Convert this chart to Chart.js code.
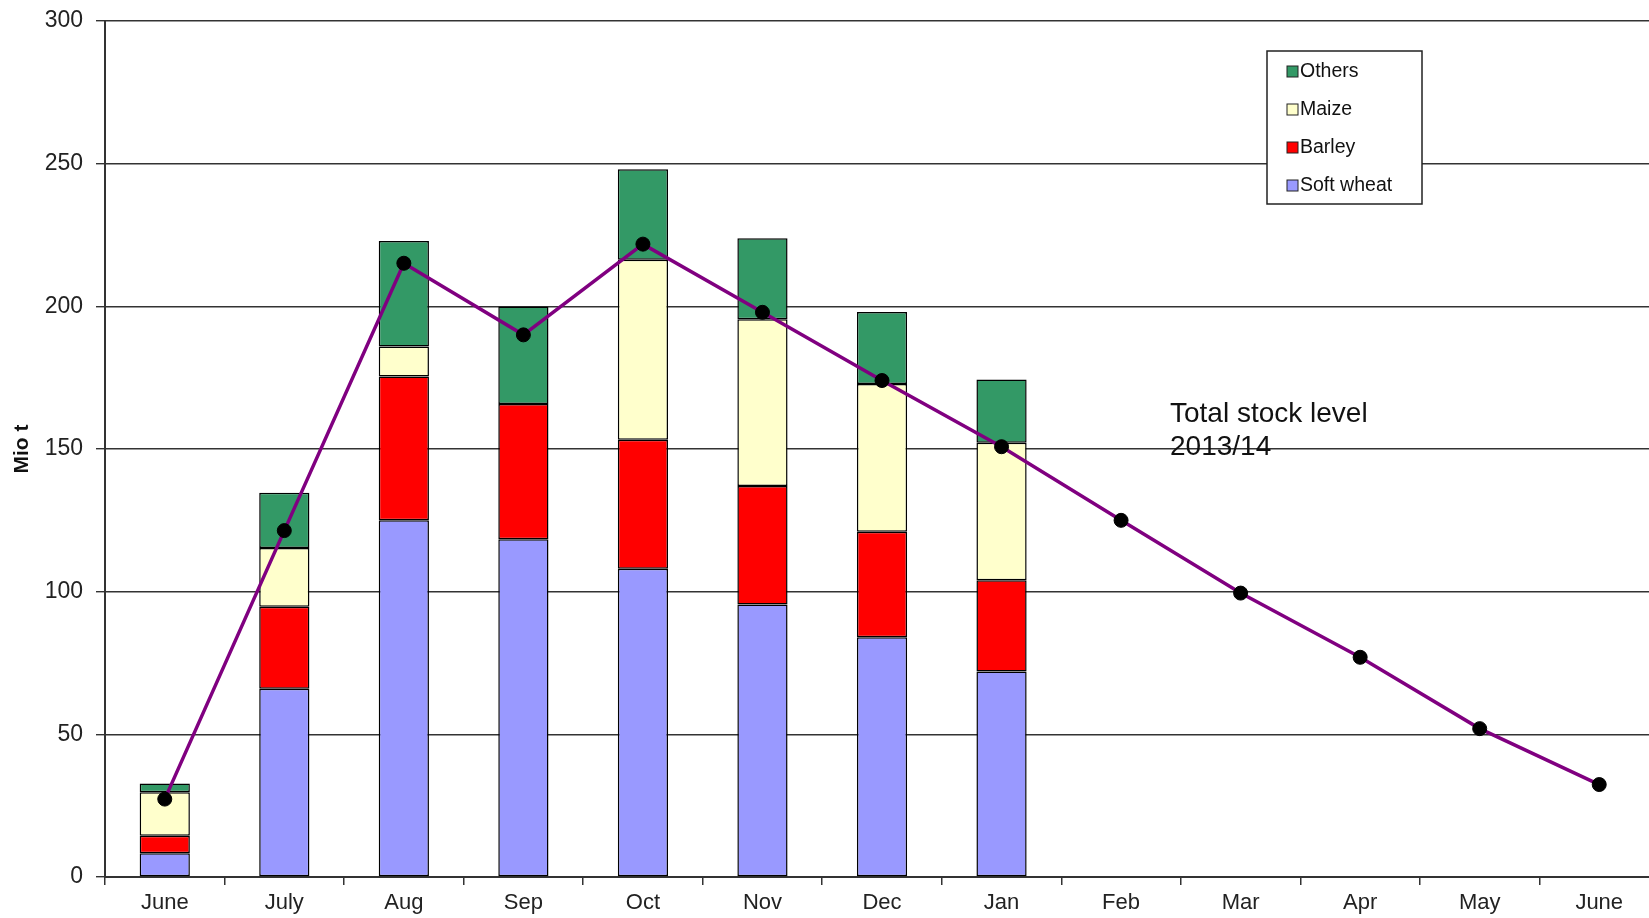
<!DOCTYPE html>
<html>
<head>
<meta charset="utf-8">
<script src="https://cdn.jsdelivr.net/npm/chart.js@4/dist/chart.umd.min.js"></script>
<style>
  body { margin: 0; overflow: hidden; background: #fff; }
  canvas { display: block; }
</style>
</head>
<body>
<canvas id="stockChart" width="1659" height="918"></canvas>
<script>
const months = ['June', 'July', 'Aug', 'Sep', 'Oct', 'Nov', 'Dec', 'Jan', 'Feb', 'Mar', 'Apr', 'May', 'June'];
const softWheat = [8.3, 66, 125, 118.4, 108, 95.5, 84, 72];
const barley = [6.2, 28.7, 50.4, 47.4, 45.2, 41.5, 37, 32];
const maize = [15.2, 20.6, 10.5, 0, 63.1, 58.5, 51.8, 48.2];
const others = [3.1, 19.4, 37, 34.1, 31.7, 28.4, 25.2, 22.2];
const totalStock = [27.3, 121.4, 215.1, 190, 221.8, 197.9, 174, 150.8, 125, 99.5, 77, 52, 32.4];
const yTicks = [0, 50, 100, 150, 200, 250, 300];

const FONT = '"Liberation Sans", Arial, sans-serif';

// legend drawn as a boxed list, top item = last stacked series
const boxLegend = {
    id: 'boxLegend',
    afterDraw(chart) {
        const ctx = chart.ctx;
        const bars = chart.data.datasets.filter(d => d.type === 'bar').slice().reverse();
        const x = 1267, y = 51, w = 155, h = 153;
        ctx.save();
        ctx.fillStyle = '#fff';
        ctx.fillRect(x, y, w, h);
        ctx.strokeStyle = '#222';
        ctx.lineWidth = 1.5;
        ctx.strokeRect(x, y, w, h);
        ctx.font = '19.5px ' + FONT;
        ctx.textBaseline = 'middle';
        bars.forEach((ds, i) => {
            const cy = y + 20 + i * 38;
            ctx.fillStyle = ds.backgroundColor;
            ctx.fillRect(x + 20, cy - 5, 11, 11);
            ctx.strokeStyle = '#222';
            ctx.lineWidth = 1;
            ctx.strokeRect(x + 20, cy - 5, 11, 11);
            ctx.fillStyle = '#111';
            ctx.fillText(ds.label, x + 33, cy + 1);
        });
        ctx.restore();
    }
};

const stockNote = {
    id: 'stockNote',
    afterDraw(chart) {
        const ctx = chart.ctx;
        ctx.save();
        ctx.font = '28px ' + FONT;
        ctx.fillStyle = '#111';
        ctx.textBaseline = 'alphabetic';
        ctx.fillText('Total stock level', 1170, 422);
        ctx.fillText('2013/14', 1170, 455);
        ctx.restore();
    }
};

const ctx = document.getElementById('stockChart').getContext('2d');
new Chart(ctx, {
    data: {
        labels: months,
        datasets: [
            {
                type: 'line',
                label: 'Total stock level 2013/14',
                data: totalStock,
                borderColor: '#800080',
                borderWidth: 3.5,
                pointRadius: 7,
                pointBackgroundColor: '#000',
                pointBorderColor: '#000',
                pointBorderWidth: 1,
                tension: 0,
                stack: 'total',
                order: 0
            },
            { type: 'bar', label: 'Soft wheat', data: softWheat, backgroundColor: '#9999FF', stack: 'grain', order: 1 },
            { type: 'bar', label: 'Barley', data: barley, backgroundColor: '#FF0000', stack: 'grain', order: 1 },
            { type: 'bar', label: 'Maize', data: maize, backgroundColor: '#FFFFCC', stack: 'grain', order: 1 },
            { type: 'bar', label: 'Others', data: others, backgroundColor: '#339966', stack: 'grain', order: 1 }
        ]
    },
    options: {
        responsive: false,
        animation: false,
        layout: { autoPadding: false, padding: { top: 21, left: 0, right: 0, bottom: 0 } },
        datasets: {
            bar: {
                borderColor: '#000',
                borderWidth: 1.5,
                borderSkipped: false,
                categoryPercentage: 1,
                barPercentage: 0.42
            }
        },
        plugins: {
            legend: { display: false },
            tooltip: { enabled: false }
        },
        scales: {
            x: {
                stacked: true,
                offset: true,
                afterFit: s => { s.height = 41; },
                grid: { drawOnChartArea: false, drawTicks: true, tickLength: 8, color: '#333', lineWidth: 1.5, offset: true },
                border: { display: true, color: '#333', width: 2 },
                ticks: { color: '#222', font: { family: FONT, size: 22 }, padding: 5, maxRotation: 0, autoSkip: false }
            },
            y: {
                stacked: true,
                min: yTicks[0],
                max: yTicks[yTicks.length - 1],
                afterFit: s => { s.width = 105; s.paddingTop = 0; s.paddingBottom = 0; },
                afterBuildTicks: s => { s.ticks = yTicks.map(v => ({ value: v })); },
                grid: { color: '#333', lineWidth: 1.4, tickLength: 9 },
                border: { display: true, color: '#333', width: 2 },
                ticks: { color: '#222', font: { family: FONT, size: 23 }, padding: 13 },
                title: { display: true, text: 'Mio t', color: '#111', font: { family: FONT, size: 21, weight: 'bold' }, padding: { top: 10, bottom: 0 } }
            }
        }
    },
    plugins: [boxLegend, stockNote]
});
</script>
</body>
</html>
